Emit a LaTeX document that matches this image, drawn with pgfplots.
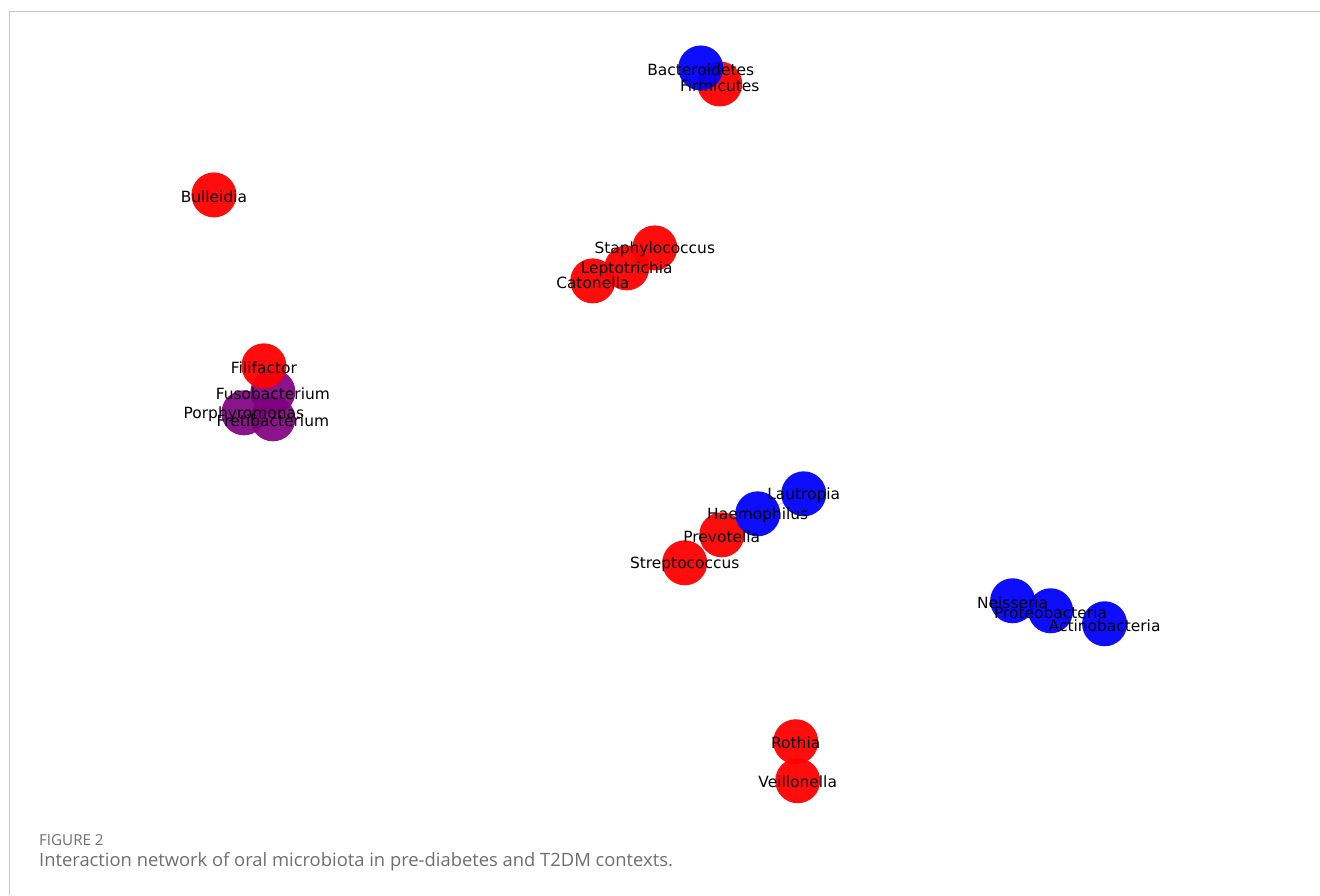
\documentclass[border=0pt]{standalone}
\usepackage{fontspec}
\setmainfont{DejaVu Sans}
\newfontfamily\capfont{Open Sans}
\usepackage{pgfplots}
\pgfplotsset{compat=1.18}
\definecolor{nred}{RGB}{255,0,0}
\definecolor{nblue}{RGB}{0,0,255}
\definecolor{npurple}{RGB}{128,0,128}
\definecolor{capgray}{RGB}{110,110,110}
\definecolor{bordergray}{RGB}{200,200,200}
\tikzset{lab/.style={font=\fontsize{15.5}{18}\selectfont,text=black,inner sep=0pt,yshift=-1.5bp}}
\begin{document}
\begin{tikzpicture}
\begin{axis}[width=1320bp,height=895bp,scale only axis,set layers,
  xmin=0,xmax=1320,ymin=0,ymax=895,y dir=reverse,hide axis,clip=false]
% edges
\addplot[gray!50,line width=0.6bp] coordinates {(701,68) (720,84)};
\addplot[gray!50,line width=0.6bp] coordinates {(655,248) (627,268) (593,281)};
\addplot[gray!50,line width=0.6bp] coordinates {(264,366) (273,392) (244,413)};
\addplot[gray!50,line width=0.6bp] coordinates {(273,392) (273,419)};
\addplot[gray!50,line width=0.6bp] coordinates {(804,494) (758,514) (722,535) (685,563)};
\addplot[gray!50,line width=0.6bp] coordinates {(1013,601) (1051,611) (1105,624)};
\addplot[gray!50,line width=0.6bp] coordinates {(796,742) (798,781)};
% nodes
\addplot[only marks,mark=*,mark size=22.5bp,color=npurple,mark options={line width=0pt,draw opacity=0,fill=npurple,fill opacity=0.92}]
 coordinates {(273,392) (244,413) (273,419)};
\addplot[only marks,mark=*,mark size=22.5bp,color=nred,mark options={line width=0pt,draw opacity=0,fill=nred,fill opacity=0.95}]
 coordinates {(720,84) (214,195) (655,248) (627,268) (593,281) (264,366) (722,535) (685,563) (796,742) (798,781)};
\addplot[only marks,mark=*,mark size=22.5bp,color=nblue,mark options={line width=0pt,draw opacity=0,fill=nblue,fill opacity=0.95}]
 coordinates {(701,68) (804,494) (758,514) (1013,601) (1051,611) (1105,624)};
% labels
\begin{pgfonlayer}{axis foreground}
\node[lab] at (axis cs:701,68) {Bacteroidetes};
\node[lab] at (axis cs:720,84) {Firmicutes};
\node[lab] at (axis cs:214,195) {Bulleidia};
\node[lab] at (axis cs:655,248) {Staphylococcus};
\node[lab] at (axis cs:627,268) {Leptotrichia};
\node[lab] at (axis cs:593,281) {Catonella};
\node[lab] at (axis cs:264,366) {Filifactor};
\node[lab] at (axis cs:273,392) {Fusobacterium};
\node[lab] at (axis cs:244,413) {Porphyromonas};
\node[lab] at (axis cs:273,419) {Fretibacterium};
\node[lab] at (axis cs:804,494) {Lautropia};
\node[lab] at (axis cs:758,514) {Haemophilus};
\node[lab] at (axis cs:722,535) {Prevotella};
\node[lab] at (axis cs:685,563) {Streptococcus};
\node[lab] at (axis cs:1013,601) {Neisseria};
\node[lab] at (axis cs:1051,611) {Proteobacteria};
\node[lab] at (axis cs:1105,624) {Actinobacteria};
\node[lab] at (axis cs:796,742) {Rothia};
\node[lab] at (axis cs:798,781) {Veillonella};
\end{pgfonlayer}
% frame and caption
\draw[bordergray,line width=1bp] (axis cs:9.5,895) -- (axis cs:9.5,11.5) -- (axis cs:1320,11.5);
\node[anchor=west,inner sep=0pt,text=capgray] at (axis cs:39,840) {\capfont\fontsize{15.2}{17}\selectfont FIGURE 2};
\node[anchor=west,inner sep=0pt,text=capgray] at (axis cs:39,862) {\capfont\fontsize{18.45}{21}\selectfont Interaction network of oral microbiota in pre-diabetes and T2DM contexts.};
\end{axis}
\path (current axis.south west) rectangle (current axis.north east);
\end{tikzpicture}
\end{document}
